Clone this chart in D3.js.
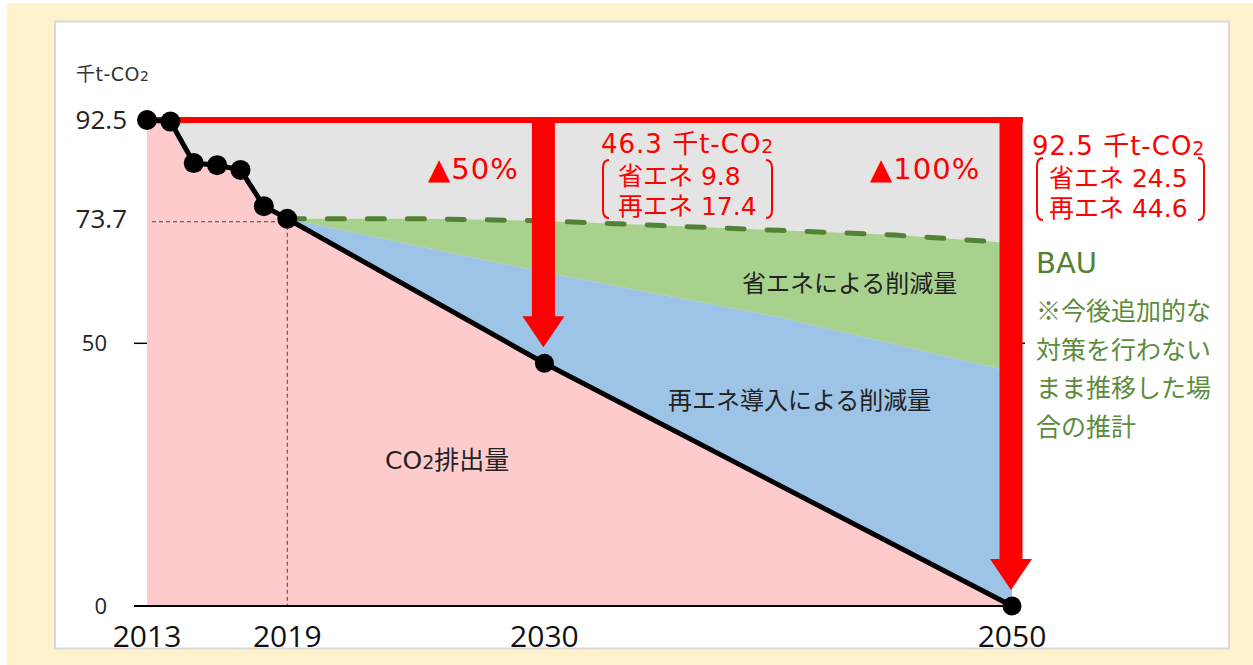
<!DOCTYPE html>
<html><head><meta charset="utf-8">
<script src="https://cdn.jsdelivr.net/npm/d3@7/dist/d3.min.js"></script>
<style>
html,body{margin:0;padding:0;background:#fff;}
svg{display:block;}
text{font-family:"Open Sans","Noto Sans CJK JP",sans-serif;}
text.dv{font-family:"DejaVu Sans","Noto Sans CJK JP",sans-serif;}
text.jp{font-family:"Noto Sans CJK JP",sans-serif;}
</style></head>
<body>
<svg id="chart" width="1253" height="665"></svg>
<script>
// ---- data ----
const years = [2013, 2014, 2015, 2016, 2017, 2018, 2019, 2030, 2050];
const emissions = [92.5, 92.2, 84.3, 83.9, 83.0, 76.1, 73.7, 46.2, 0];
const bauYears = [2019, 2025, 2030, 2035, 2040, 2045, 2050];
const bauValues = [73.7, 73.7, 73.3, 72.4, 71.5, 70.6, 69.1];
const renewYears = [2019, 2030, 2040, 2050];
const renewTop = [73.7, 63.5, 55.0, 44.6];
const xTickYears = [2013, 2019, 2030, 2050];
const yTickValues = [0, 50];
const yMarkValues = [92.5, 73.7];
const arrowYears = [2030, 2050];
const arrowLabels = ["▲50%", "▲100%"];
const midNote = ["46.3 千t-CO", "省エネ 9.8", "再エネ 17.4"];
const endNote = ["92.5 千t-CO", "省エネ 24.5", "再エネ 44.6"];
const bauNote = ["※今後追加的な", "対策を行わない", "まま推移した場", "合の推計"];

const svg = d3.select("#chart");
// frame
svg.append("rect").attr("x",7).attr("y",3).attr("width",1246).attr("height",662).attr("fill","#fff2cc");
svg.append("rect").attr("x",55).attr("y",21.5).attr("width",1174).attr("height",627).attr("fill","#fff").attr("stroke","#d9d9d9").attr("stroke-width",2);

const x = d3.scaleLinear().domain([2013, 2050]).range([147, 1012]);
const y = d3.scaleLinear().domain([0, 92.5]).range([606, 120]);

const emis = years.map((yr,i)=>({yr, v:emissions[i]}));
const bau = bauYears.map((yr,i)=>({yr, v:bauValues[i]}));
const ren = renewYears.map((yr,i)=>({yr, v:renewTop[i]}));
const emisLate = emis.filter(d=>d.yr>=2019);

// grey background region
svg.append("rect").attr("x",x(2013)).attr("y",y(92.5)).attr("width",x(2050)-x(2013)).attr("height",y(0)-y(92.5)).attr("fill","#e4e4e4");

// pink
const area = d3.area().x(d=>x(d.yr)).y0(y(0)).y1(d=>y(d.v));
svg.append("path").datum(emis).attr("d",area).attr("fill","#fdcbcb");

// polygon helper
const poly = (top, bottom) => {
  const pts = top.map(d=>[x(d.yr),y(d.v)]).concat(bottom.slice().reverse().map(d=>[x(d.yr),y(d.v)]));
  return "M" + pts.map(p=>p.join(",")).join("L") + "Z";
};
svg.append("path").attr("d",poly(bau, ren)).attr("fill","#a9d18e");
svg.append("path").attr("d",poly(ren, emisLate)).attr("fill","#9dc3e6");

// reference dashed lines for 73.7 / 2019
svg.append("line").attr("x1",152).attr("x2",x(2019)).attr("y1",y(73.7)+3).attr("y2",y(73.7)+3)
  .attr("stroke","#444").attr("stroke-width",1).attr("stroke-dasharray","4,3");
svg.append("line").attr("x1",x(2019)).attr("x2",x(2019)).attr("y1",y(73.7)).attr("y2",y(0))
  .attr("stroke","#444").attr("stroke-width",1).attr("stroke-dasharray","4,3");

// BAU dashed
const line = d3.line().x(d=>x(d.yr)).y(d=>y(d.v));
svg.append("path").datum(bau).attr("d",line).attr("fill","none").attr("stroke","#548235")
  .attr("stroke-width",5).attr("stroke-linecap","round").attr("stroke-dasharray","17,23");

// axis line & ticks
svg.append("line").attr("x1",134).attr("x2",x(2050)).attr("y1",y(0)).attr("y2",y(0)).attr("stroke","#000").attr("stroke-width",2);
yTickValues.forEach(v=>{
  svg.append("line").attr("x1",134).attr("x2",x(2013)).attr("y1",y(v)).attr("y2",y(v)).attr("stroke","#000").attr("stroke-width",1.5);
  svg.append("text").attr("x",107).attr("y",y(v)+8).attr("text-anchor","end").attr("font-size",22).attr("fill","#222").text(v);
});
svg.append("line").attr("x1",1021).attr("x2",1025).attr("y1",y(50)).attr("y2",y(50)).attr("stroke","#000").attr("stroke-width",1.5);
yMarkValues.forEach(v=>{
  svg.append("text").attr("x",127).attr("y",y(v)+9).attr("text-anchor","end").attr("font-size",26).attr("fill","#222").text(v);
});
xTickYears.forEach(yr=>{
  svg.append("text").attr("x",x(yr)).attr("y",647).attr("text-anchor","middle").attr("font-size",30).attr("fill","#111").text(yr);
});

// red horizontal line
svg.append("line").attr("x1",x(2013)).attr("x2",x(2050)+11).attr("y1",y(92.5)).attr("y2",y(92.5)).attr("stroke","#ff0000").attr("stroke-width",6);

// red arrows
arrowYears.forEach(yr=>{
  const v = emissions[years.indexOf(yr)];
  const cx = x(yr) - 1, top = y(92.5) - 3, tip = y(v) - 16, headTop = tip - 31, bw = 11.5, hw = 21;
  const d = `M${cx-bw},${top}L${cx+bw},${top}L${cx+bw},${headTop}L${cx+hw},${headTop}L${cx},${tip}L${cx-hw},${headTop}L${cx-bw},${headTop}Z`;
  svg.append("path").attr("d",d).attr("fill","#ff0000");
});

// emission line & dots
svg.append("path").datum(emis).attr("d",line).attr("fill","none").attr("stroke","#000").attr("stroke-width",5).attr("stroke-linejoin","round");
svg.selectAll("circle.dot").data(emis).enter().append("circle").attr("class","dot")
  .attr("cx",d=>x(d.yr)).attr("cy",d=>y(d.v)).attr("r",d=>d.yr>=2030?9.5:10).attr("fill","#000");

// texts
const unit = svg.append("text").attr("class","dv").attr("x",76).attr("y",81).attr("font-size",19).attr("letter-spacing",0.5).attr("fill","#333");
unit.append("tspan").text("千t-CO");
unit.append("tspan").attr("font-size",14).text("2");

function note(lines, x0, b0, l, r, top, bot){
  const t = svg.append("text").attr("class","dv").attr("x",x0).attr("y",b0).attr("font-size",26).attr("letter-spacing",1).attr("fill","#ff0000");
  t.append("tspan").text(lines[0]);
  t.append("tspan").attr("font-size",19).text("2");
  lines.slice(1).forEach((s,i)=>{
    svg.append("text").attr("class","dv").attr("x",x0+17).attr("y",b0+32+i*30).attr("font-size",25).attr("fill","#ff0000").text(s);
  });
  const br = (xx, dir) => `M${xx+dir*6},${top}Q${xx},${top} ${xx},${top+8}L${xx},${bot-8}Q${xx},${bot} ${xx+dir*6},${bot}`;
  svg.append("path").attr("d",br(l,1)).attr("fill","none").attr("stroke","#ff0000").attr("stroke-width",2);
  svg.append("path").attr("d",br(r,-1)).attr("fill","none").attr("stroke","#ff0000").attr("stroke-width",2);
}
note(midNote, 601, 153, 603, 772, 160, 218);
note(endNote, 1032, 155, 1037, 1204, 158, 220);

svg.append("text").attr("class","dv").attr("x",428).attr("y",179).attr("font-size",29).attr("letter-spacing",1).attr("fill","#ff0000").text(arrowLabels[0]);
svg.append("text").attr("class","dv").attr("x",870).attr("y",179).attr("font-size",29).attr("letter-spacing",1).attr("fill","#ff0000").text(arrowLabels[1]);

svg.append("text").attr("class","dv").attr("x",1036).attr("y",273).attr("font-size",29).attr("fill","#548235").text("BAU");
bauNote.forEach((s,i)=>{
  svg.append("text").attr("class","jp").attr("x",1036).attr("y",320+i*38.5).attr("font-size",25).attr("fill","#5b8c3c").text(s);
});

svg.append("text").attr("class","jp").attr("x",742).attr("y",292).attr("font-size",24).attr("fill","#222").text("省エネによる削減量");
svg.append("text").attr("class","jp").attr("x",668).attr("y",409).attr("font-size",24).attr("fill","#222").text("再エネ導入による削減量");
const co = svg.append("text").attr("class","dv").attr("x",385).attr("y",469).attr("font-size",25).attr("fill","#222");
co.append("tspan").text("CO");
co.append("tspan").attr("font-size",19).text("2");
co.append("tspan").text("排出量");
</script>
</body></html>
